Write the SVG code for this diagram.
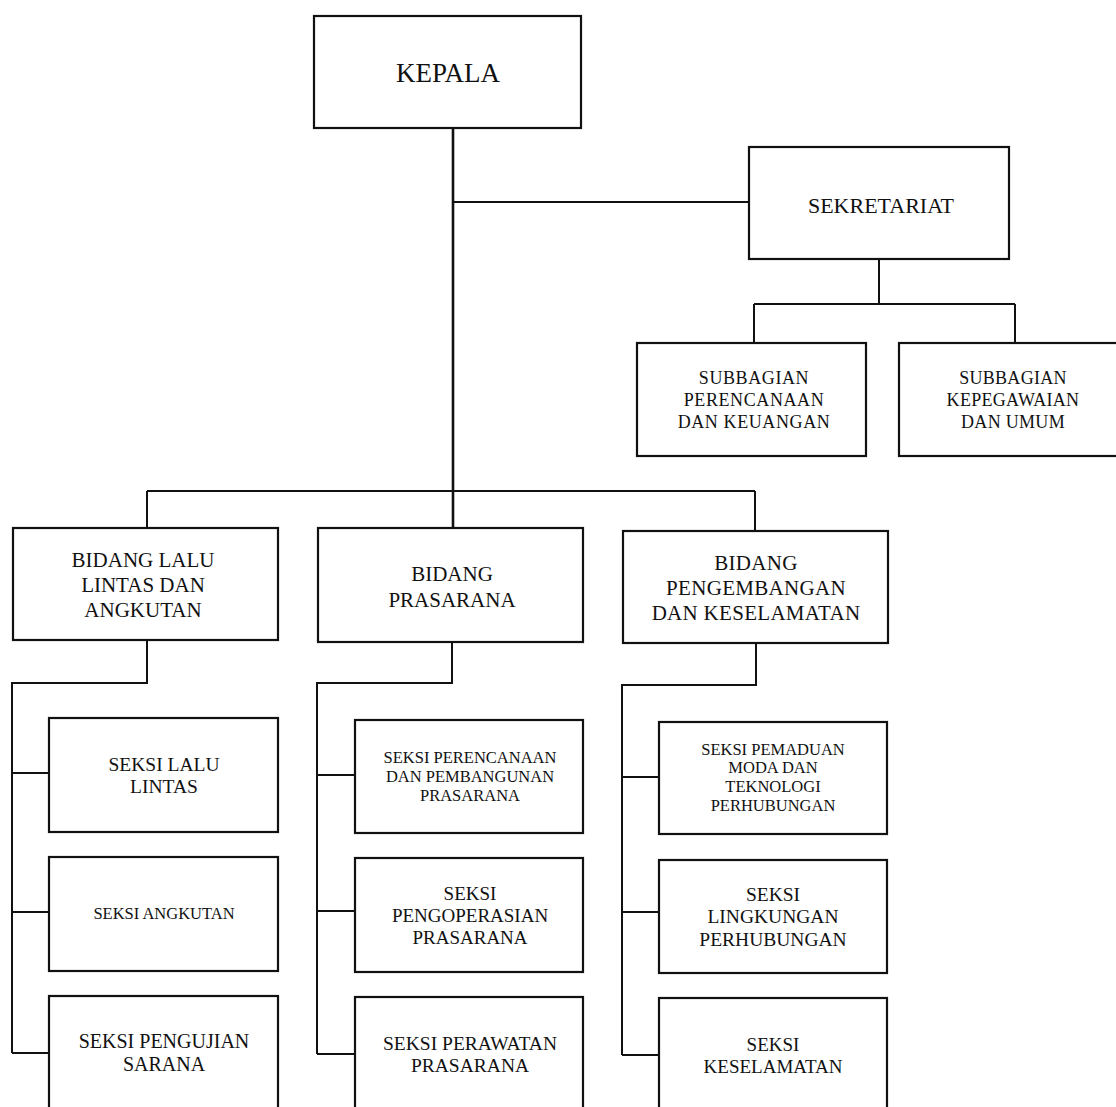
<svg xmlns="http://www.w3.org/2000/svg" width="1116" height="1107" viewBox="0 0 1116 1107">
<style>
.box{fill:#fff;stroke:#111;stroke-width:2.2}
.ln{fill:none;stroke:#111;stroke-width:2}
text{font-family:"Liberation Serif","Times New Roman",serif;fill:#111;text-anchor:middle}
</style>
<rect width="1116" height="1107" fill="#fff"/>
<g id="connectors">
<path class="ln" style="stroke-width:2.6" d="M453,128 V528"/>
<path class="ln" d="M453,202 H749"/>
<path class="ln" d="M879,259 V304 M754,304 H1015 M754,304 V343 M1015,304 V343"/>
<path class="ln" d="M147,491 H755 M147,491 V528 M755,491 V531"/>
<path class="ln" d="M147,640 V683 H12 V1053 M12,773 H49 M12,912 H49 M12,1053 H49"/>
<path class="ln" d="M452,642 V683 H317 V1054 M317,775 H355 M317,911 H355 M317,1054 H355"/>
<path class="ln" d="M756,643 V685 H622 V1055 M622,777 H659 M622,912 H659 M622,1055 H659"/>
</g>
<g id="kepala"><rect class="box" x="314" y="16" width="267" height="112"/><text x="448" y="82" font-size="27">KEPALA</text></g>
<g id="sekretariat"><rect class="box" x="749" y="147" width="260" height="112"/><text x="881" y="213" font-size="22">SEKRETARIAT</text></g>
<g id="sub-perencanaan"><rect class="box" x="637" y="343" width="229" height="113"/><text font-size="18" letter-spacing="0.6"><tspan x="754" y="384">SUBBAGIAN</tspan><tspan x="754" y="406">PERENCANAAN</tspan><tspan x="754" y="428">DAN KEUANGAN</tspan></text></g>
<g id="sub-kepegawaian"><rect class="box" x="899" y="343" width="233" height="113"/><text font-size="18" letter-spacing="0.3"><tspan x="1013" y="384">SUBBAGIAN</tspan><tspan x="1013" y="406">KEPEGAWAIAN</tspan><tspan x="1013" y="428">DAN UMUM</tspan></text></g>
<g id="bidang-llaj"><rect class="box" x="13" y="528" width="265" height="112"/><text font-size="21"><tspan x="143" y="567">BIDANG LALU</tspan><tspan x="143" y="592">LINTAS DAN</tspan><tspan x="143" y="617">ANGKUTAN</tspan></text></g>
<g id="bidang-prasarana"><rect class="box" x="318" y="528" width="265" height="114"/><text font-size="21"><tspan x="452" y="581">BIDANG</tspan><tspan x="452" y="607">PRASARANA</tspan></text></g>
<g id="bidang-pengembangan"><rect class="box" x="623" y="531" width="265" height="112"/><text font-size="21" letter-spacing="0.3"><tspan x="756" y="570">BIDANG</tspan><tspan x="756" y="595">PENGEMBANGAN</tspan><tspan x="756" y="620">DAN KESELAMATAN</tspan></text></g>
<g id="seksi-lalulintas"><rect class="box" x="49" y="718" width="229" height="114"/><text font-size="19.5"><tspan x="164" y="771">SEKSI LALU</tspan><tspan x="164" y="793">LINTAS</tspan></text></g>
<g id="seksi-angkutan"><rect class="box" x="49" y="857" width="229" height="114"/><text font-size="16.5" x="164" y="919">SEKSI ANGKUTAN</text></g>
<g id="seksi-pengujian"><rect class="box" x="49" y="996" width="229" height="120"/><text font-size="20"><tspan x="164" y="1048">SEKSI PENGUJIAN</tspan><tspan x="164" y="1071">SARANA</tspan></text></g>
<g id="seksi-perencanaan"><rect class="box" x="355" y="720" width="228" height="113"/><text font-size="16.5"><tspan x="470" y="763">SEKSI PERENCANAAN</tspan><tspan x="470" y="782">DAN PEMBANGUNAN</tspan><tspan x="470" y="801">PRASARANA</tspan></text></g>
<g id="seksi-pengoperasian"><rect class="box" x="355" y="858" width="228" height="114"/><text font-size="19"><tspan x="470" y="900">SEKSI</tspan><tspan x="470" y="922">PENGOPERASIAN</tspan><tspan x="470" y="944">PRASARANA</tspan></text></g>
<g id="seksi-perawatan"><rect class="box" x="355" y="997" width="228" height="120"/><text font-size="19.5"><tspan x="470" y="1050">SEKSI PERAWATAN</tspan><tspan x="470" y="1072">PRASARANA</tspan></text></g>
<g id="seksi-pemaduan"><rect class="box" x="659" y="722" width="228" height="112"/><text font-size="16.5"><tspan x="773" y="755">SEKSI PEMADUAN</tspan><tspan x="773" y="773">MODA DAN</tspan><tspan x="773" y="792">TEKNOLOGI</tspan><tspan x="773" y="811">PERHUBUNGAN</tspan></text></g>
<g id="seksi-lingkungan"><rect class="box" x="659" y="860" width="228" height="113"/><text font-size="19.5"><tspan x="773" y="901">SEKSI</tspan><tspan x="773" y="923">LINGKUNGAN</tspan><tspan x="773" y="946">PERHUBUNGAN</tspan></text></g>
<g id="seksi-keselamatan"><rect class="box" x="659" y="998" width="228" height="120"/><text font-size="19"><tspan x="773" y="1051">SEKSI</tspan><tspan x="773" y="1073">KESELAMATAN</tspan></text></g>
</svg>
